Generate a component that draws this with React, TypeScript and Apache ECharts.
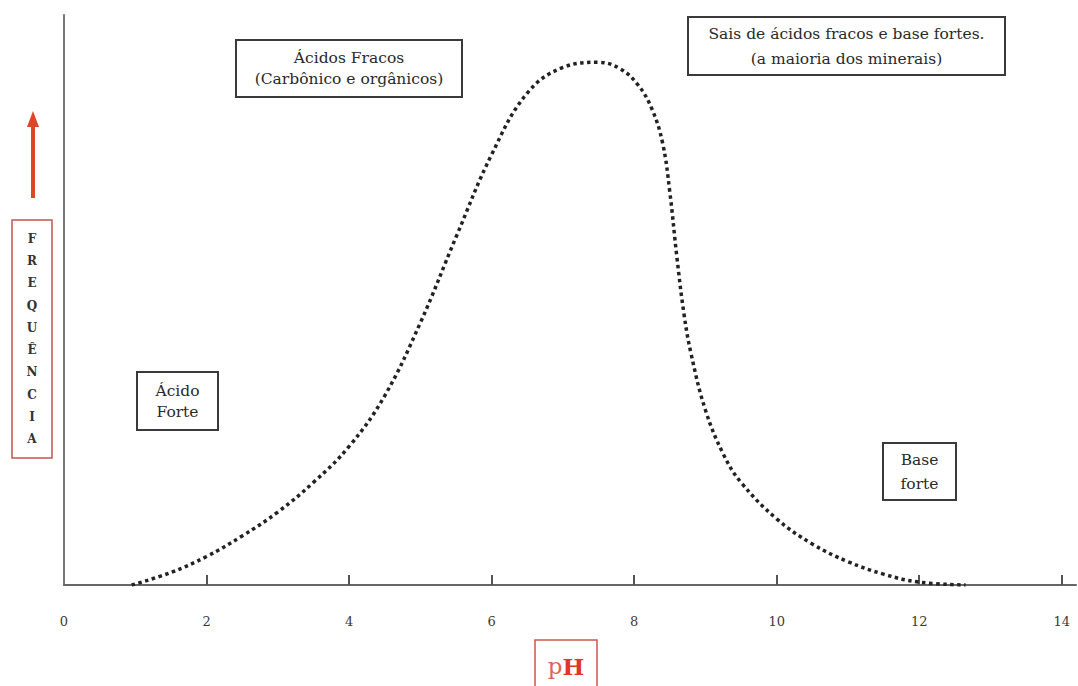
import React, { useEffect, useRef } from "react";
import * as echarts from "echarts";

// pH values and relative frequency
const phValues = [0.95, 1.5, 2.0, 2.5, 3.0, 3.5, 4.0, 4.5, 5.0, 5.5, 6.0, 6.5, 7.0, 7.5, 7.8, 8.05, 8.25, 8.4, 8.5, 8.6, 8.7, 8.8, 9.0, 9.25, 9.5, 10.0, 10.5, 11.0, 11.5, 12.0, 12.65];
const frequency = [0, 2.2, 5.0, 8.6, 12.8, 18, 24.3, 33.2, 46, 61, 75.5, 86.3, 90.8, 91.7, 90.6, 87.8, 83.5, 77.5, 69, 57.5, 47.5, 40.5, 30.7, 23, 18, 11.6, 7.2, 4.1, 1.9, 0.5, 0];
const xTickValues = [2, 4, 6, 8, 10, 12, 14];
const xLabelValues = [0, 2, 4, 6, 8, 10, 12, 14];
const yAxisTitle = "FREQUÊNCIA";
const xAxisTitle = "pH";
const boxTexts = {
  weak: ["Ácidos Fracos", "(Carbônico e orgânicos)"],
  salts: ["Sais de ácidos fracos e base fortes.", "(a maioria dos minerais)"],
  strongAcid: ["Ácido", "Forte"],
  strongBase: ["Base", "forte"],
};

const SERIF = "DejaVu Serif";

function box(x: number, y: number, w: number, h: number, lines: string[], lineH: number, fontSize = 15.5) {
  return {
    type: "group",
    children: [
      {
        type: "rect",
        shape: { x, y, width: w, height: h },
        style: { fill: "#fff", stroke: "#3a3a3a", lineWidth: 2 },
      },
      {
        type: "text",
        x: x + w / 2,
        y: y + h / 2,
        style: {
          text: lines.join("\n"),
          fill: "#2a2a2a",
          fontFamily: SERIF,
          fontSize,
          lineHeight: lineH,
          align: "center",
          verticalAlign: "middle",
        },
      },
    ],
  };
}

export default function App() {
  const ref = useRef<HTMLDivElement>(null);
  useEffect(() => {
    document.body.style.margin = "0";
    const chart = echarts.init(ref.current!, undefined, { renderer: "svg" });
    const data = phValues.map((v, i) => [v, frequency[i]]);
    chart.setOption({
      animation: false,
      backgroundColor: "#fff",
      grid: { left: 64, right: 2, top: 15, bottom: 101 },
      xAxis: {
        type: "value",
        min: 0,
        max: 14.2,
        interval: 2,
        splitLine: { show: false },
        axisLine: { lineStyle: { color: "#666", width: 2 } },
        axisTick: {
          show: true,
          inside: true,
          length: 10,
          customValues: xTickValues,
          lineStyle: { color: "#555", width: 2 },
        },
        axisLabel: {
          customValues: xLabelValues,
          margin: 30,
          color: "#3a3a3a",
          fontFamily: SERIF,
          fontSize: 13,
        },
      },
      yAxis: {
        type: "value",
        min: 0,
        max: 100,
        splitLine: { show: false },
        axisTick: { show: false },
        axisLabel: { show: false },
        axisLine: { show: true, lineStyle: { color: "#777", width: 2 } },
      },
      series: [
        {
          type: "line",
          data,
          smooth: 0.4,
          showSymbol: false,
          lineStyle: { color: "#222", width: 3.5, type: [3.5, 3.5] },
        },
      ],
      graphic: [
        box(236, 40, 226, 57, boxTexts.weak, 21),
        box(688, 17, 317, 58, boxTexts.salts, 25),
        box(137, 372, 81, 58, boxTexts.strongAcid, 21),
        box(883, 443, 73, 57, boxTexts.strongBase, 24),
        {
          type: "rect",
          shape: { x: 12, y: 220, width: 40, height: 238 },
          style: { fill: "#fff", stroke: "#c0584e", lineWidth: 1.5 },
        },
        {
          type: "text",
          x: 32,
          y: 339,
          style: {
            text: yAxisTitle.split("").join("\n"),
            fill: "#333",
            fontFamily: SERIF,
            fontWeight: "bold",
            fontSize: 12,
            lineHeight: 22.3,
            align: "center",
            verticalAlign: "middle",
          },
        },
        {
          type: "line",
          shape: { x1: 33, y1: 198, x2: 33, y2: 125 },
          style: { stroke: "#e0452a", lineWidth: 4 },
        },
        {
          type: "polygon",
          shape: { points: [[33, 111], [27, 127], [39, 127]] },
          style: { fill: "#e0452a" },
        },
        {
          type: "rect",
          shape: { x: 535, y: 640, width: 62, height: 50 },
          style: { fill: "#fff", stroke: "#d0544a", lineWidth: 1.5 },
        },
        {
          type: "text",
          x: 566,
          y: 666,
          style: {
            text: `{p|${xAxisTitle[0]}}{h|${xAxisTitle.slice(1)}}`,
            align: "center",
            verticalAlign: "middle",
            rich: {
              p: { fill: "#d9655a", fontFamily: SERIF, fontSize: 23 },
              h: { fill: "#e0352a", fontFamily: SERIF, fontSize: 23, fontWeight: "bold" },
            },
          },
        },
      ],
    });
    return () => chart.dispose();
  }, []);
  return <div ref={ref} style={{ width: 1078, height: 686 }} />;
}
